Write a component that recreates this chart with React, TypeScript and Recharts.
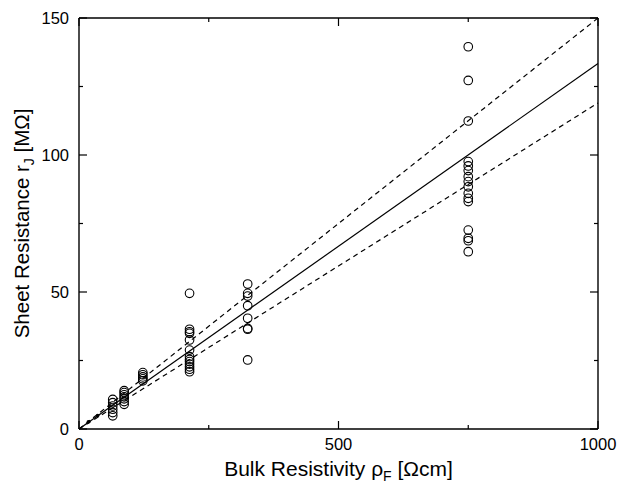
import {
  ComposedChart,
  XAxis,
  YAxis,
  Scatter,
  Line
} from "recharts";

// measured samples, grouped by bulk resistivity (Ωcm)
const col65 = [10.8, 9.6, 8.4, 7.2, 6.0, 4.8];
const col87 = [14.0, 13.3, 12.5, 11.7, 11.0, 10.0, 9.0];
const col123 = [20.6, 19.8, 19.0, 18.3, 17.6];
const col213 = [49.5, 36.4, 35.5, 34.9, 32.5, 28.8, 26.4, 25.4, 24.6, 23.7, 22.7, 21.8, 20.9];
const col325 = [52.9, 49.5, 48.5, 45.0, 40.4, 36.7, 36.4, 25.2];
const col750 = [139.5, 127.2, 112.4, 97.6, 96.0, 94.3, 92.1, 90.3, 88.4, 86.0, 84.2, 83.0, 72.6, 69.6, 68.7, 64.7];

const columns: [number, number[]][] = [
  [65, col65],
  [87, col87],
  [123, col123],
  [213, col213],
  [325, col325],
  [750, col750]
];

const samples = columns.flatMap(([x, ys]) => ys.map((y) => ({ x, y })));

// tiny marks close to the origin
const smallMarks = [
  { x: 18, y: 2.6 },
  { x: 36, y: 4.9 }
];

// fitted line and its bounds
const fitLine = [
  { x: 0, y: 0 },
  { x: 1000, y: 133.4 }
];
const upperBound = [
  { x: 0, y: 0 },
  { x: 1000, y: 150 }
];
const lowerBound = [
  { x: 0, y: 0 },
  { x: 1000, y: 119 }
];

const xTicks = [0, 250, 500, 750, 1000];
const yTicks = [0, 25, 50, 75, 100, 125, 150];

const FONT = "'Liberation Sans', Arial, sans-serif";

const BottomTick = (props: any) => {
  const { x, y, payload } = props;
  const major = payload.value % 500 === 0;
  return (
    <g>
      <line x1={x} y1={y} x2={x} y2={y - (major ? 8 : 4)} stroke="#000" strokeWidth={1.2} />
      {major && (
        <text x={x} y={y + 21} textAnchor="middle" fontSize={16.5} fontFamily={FONT} fill="#000">
          {payload.value}
        </text>
      )}
    </g>
  );
};

const TopTick = (props: any) => {
  const { x, y, payload } = props;
  const major = payload.value % 500 === 0;
  return <line x1={x} y1={y} x2={x} y2={y + (major ? 8 : 4)} stroke="#000" strokeWidth={1.2} />;
};

const LeftTick = (props: any) => {
  const { x, y, payload } = props;
  const major = payload.value % 50 === 0;
  return (
    <g>
      <line x1={x} y1={y} x2={x + (major ? 8 : 4)} y2={y} stroke="#000" strokeWidth={1.2} />
      {major && (
        <text x={x - 10} y={y + 6} textAnchor="end" fontSize={16.5} fontFamily={FONT} fill="#000">
          {payload.value}
        </text>
      )}
    </g>
  );
};

const RightTick = (props: any) => {
  const { x, y, payload } = props;
  const major = payload.value % 50 === 0;
  return <line x1={x} y1={y} x2={x - (major ? 8 : 4)} y2={y} stroke="#000" strokeWidth={1.2} />;
};

const XTitle = (props: any) => {
  const { viewBox } = props;
  const cx = viewBox.x + viewBox.width / 2;
  return (
    <text x={cx} y={viewBox.y + 47} textAnchor="middle" fontSize={21} fontFamily={FONT} fill="#000">
      Bulk Resistivity ρ
      <tspan fontSize={14} dy={5}>F</tspan>
      <tspan dy={-5}> [Ωcm]</tspan>
    </text>
  );
};

const YTitle = (props: any) => {
  const { viewBox } = props;
  const cy = viewBox.y + viewBox.height / 2;
  const tx = 29;
  return (
    <text
      x={tx}
      y={cy}
      transform={`rotate(-90, ${tx}, ${cy})`}
      textAnchor="middle"
      fontSize={20.5}
      fontFamily={FONT}
      fill="#000"
    >
      Sheet Resistance r
      <tspan fontSize={14} dy={5}>J</tspan>
      <tspan dy={-5}> [MΩ]</tspan>
    </text>
  );
};

const OpenCircle = (props: any) => (
  <circle cx={props.cx} cy={props.cy} r={4.3} fill="none" stroke="#000" strokeWidth={1.1} />
);

const SmallDot = (props: any) => <circle cx={props.cx} cy={props.cy} r={1.8} fill="#000" />;

export default function App() {
  return (
    <div style={{ position: "absolute", left: 0, top: 0, background: "#fff" }}>
      <ComposedChart
        width={618}
        height={487}
        margin={{ top: 17, right: 19, bottom: 0, left: 0 }}
      >
        <XAxis
          dataKey="x"
          type="number"
          domain={[0, 1000]}
          ticks={xTicks}
          interval={0}
          height={58}
          tickSize={0}
          tickMargin={0}
          tick={<BottomTick />}
          axisLine={{ stroke: "#000", strokeWidth: 1.4 }}
          label={<XTitle />}
        />
        <XAxis
          xAxisId="top"
          orientation="top"
          dataKey="x"
          type="number"
          domain={[0, 1000]}
          ticks={xTicks}
          interval={0}
          height={1}
          tickSize={0}
          tickMargin={0}
          tick={<TopTick />}
          axisLine={{ stroke: "#000", strokeWidth: 1.4 }}
        />
        <YAxis
          dataKey="y"
          type="number"
          domain={[0, 150]}
          ticks={yTicks}
          interval={0}
          width={79}
          tickSize={0}
          tickMargin={0}
          tick={<LeftTick />}
          axisLine={{ stroke: "#000", strokeWidth: 1.4 }}
          label={<YTitle />}
        />
        <YAxis
          yAxisId="right"
          orientation="right"
          dataKey="y"
          type="number"
          domain={[0, 150]}
          ticks={yTicks}
          interval={0}
          width={1}
          tickSize={0}
          tickMargin={0}
          tick={<RightTick />}
          axisLine={{ stroke: "#000", strokeWidth: 1.4 }}
        />
        {/* invisible series so the top and right frame axes get drawn */}
        <Line
          data={fitLine}
          dataKey="y"
          xAxisId="top"
          yAxisId="right"
          stroke="none"
          dot={false}
          isAnimationActive={false}
        />
        <Line
          data={upperBound}
          dataKey="y"
          stroke="#000"
          strokeWidth={1.2}
          strokeDasharray="5 4"
          dot={false}
          isAnimationActive={false}
        />
        <Line
          data={fitLine}
          dataKey="y"
          stroke="#000"
          strokeWidth={1.2}
          dot={false}
          isAnimationActive={false}
        />
        <Line
          data={lowerBound}
          dataKey="y"
          stroke="#000"
          strokeWidth={1.2}
          strokeDasharray="5 4"
          dot={false}
          isAnimationActive={false}
        />
        <Scatter data={samples} dataKey="y" shape={<OpenCircle />} isAnimationActive={false} />
        <Scatter data={smallMarks} dataKey="y" shape={<SmallDot />} isAnimationActive={false} />
      </ComposedChart>
    </div>
  );
}
